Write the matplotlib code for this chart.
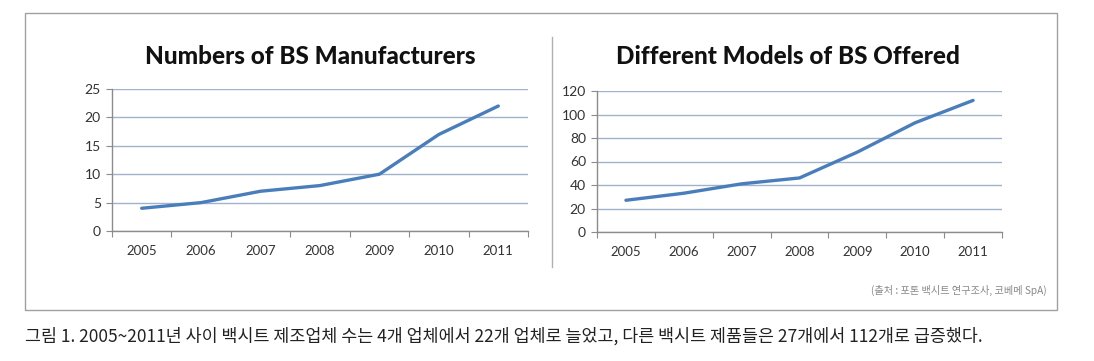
import matplotlib.pyplot as plt
from matplotlib.patches import Rectangle
from matplotlib.lines import Line2D

years = ["2005", "2006", "2007", "2008", "2009", "2010", "2011"]
manufacturers = [4, 5, 7, 8, 10, 17, 22]
models = [27, 33, 41, 46, 68, 93, 112]

W, H = 1094, 361
LINE = "#4a7ebb"
GRID = "#9fb4cc"
AXIS = "#8c8c8c"
TXT = "#333333"
FONT = ["Lato", "DejaVu Sans"]
KFONT = ["Noto Sans CJK KR", "DejaVu Sans"]


def px_axes(fig, x0, y0, x1, y1):
    # pixel box (top-left origin) -> figure fraction
    return fig.add_axes([x0 / W, 1 - y1 / H, (x1 - x0) / W, (y1 - y0) / H])


def draw_chart(ax, values, ymax, step, title, title_x):
    x = list(range(len(years)))
    ax.plot(x, values, color=LINE, lw=2.4, solid_capstyle="round", zorder=3)
    ax.set_xlim(-0.5, len(years) - 0.5)
    ax.set_ylim(0, ymax)
    ax.set_yticks(range(0, ymax + 1, step))
    ax.set_xticks([i - 0.5 for i in range(len(years) + 1)])
    ax.set_xticklabels([])
    ax.set_xticks(x, minor=True)
    ax.set_xticklabels(years, minor=True, fontsize=9.5, color=TXT, family=FONT)
    ax.tick_params(axis="x", which="minor", length=0, pad=10)
    ax.tick_params(axis="x", which="major", length=4, color=AXIS, direction="out")
    ax.tick_params(axis="y", length=4, color=AXIS, labelsize=10, labelcolor=TXT, pad=4)
    for lab in ax.get_yticklabels():
        lab.set_family(FONT)
    ax.grid(axis="y", color=GRID, lw=1)
    ax.set_axisbelow(True)
    for s in ["top", "right"]:
        ax.spines[s].set_visible(False)
    for s in ["left", "bottom"]:
        ax.spines[s].set_color(AXIS)
        ax.spines[s].set_linewidth(1)
    ax.set_facecolor("none")
    ax.get_figure().text(title_x / W, 1 - 57 / H, title, ha="center", va="center",
                         fontsize=17.5, fontweight="black", color="#111111", family=FONT)


fig = plt.figure(figsize=(W / 100, H / 100), dpi=100)

# outer frame and divider
fig.add_artist(Rectangle((25 / W, 1 - 310 / H), (1057 - 25) / W, (310 - 13) / H,
                         transform=fig.transFigure, fill=False, edgecolor="#a0a0a0", lw=1))
fig.add_artist(Line2D([552 / W, 552 / W], [1 - 37 / H, 1 - 267 / H],
                      transform=fig.transFigure, color="#b0b0b0", lw=1))

ax1 = px_axes(fig, 112, 89, 528, 231)
draw_chart(ax1, manufacturers, 25, 5, "Numbers of BS Manufacturers", 310)

ax2 = px_axes(fig, 597, 91, 1002, 232)
draw_chart(ax2, models, 120, 20, "Different Models of BS Offered", 788)

fig.text(1047 / W, 1 - 290 / H, "(출처 : 포톤 백시트 연구조사, 코베메 SpA)", ha="right", va="center",
         fontsize=7.3, color="#888888", family=KFONT)
fig.text(25 / W, 1 - 336 / H,
         "그림 1. 2005~2011년 사이 백시트 제조업체 수는 4개 업체에서 22개 업체로 늘었고, 다른 백시트 제품들은 27개에서 112개로 급증했다.",
         ha="left", va="center", fontsize=12.5, color="#222222", family=KFONT)

fig.savefig("out.png", dpi=100, facecolor="white")
